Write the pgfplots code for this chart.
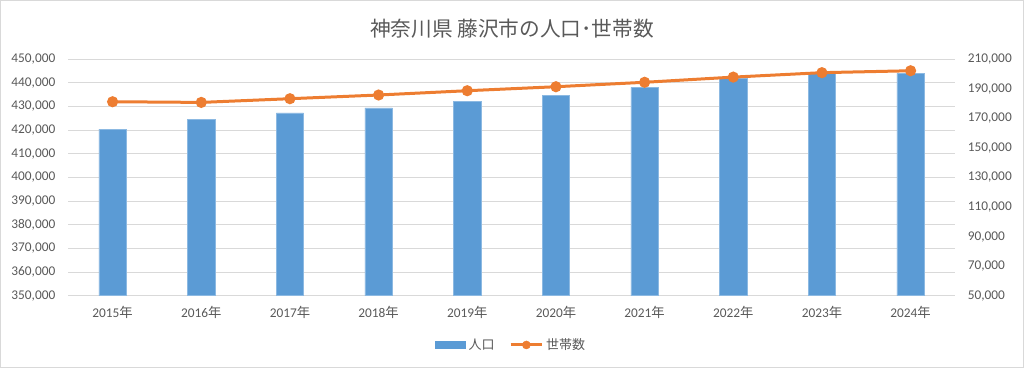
\documentclass[border=0pt]{standalone}
\usepackage{fontspec}
\setmainfont{Carlito}
\newfontfamily\cjk{Noto Sans CJK JP}
\usepackage{pgfplots}
\pgfplotsset{compat=1.18}
\definecolor{barblue}{HTML}{5B9BD5}
\definecolor{lineorange}{HTML}{ED7D31}
\definecolor{txtgray}{HTML}{595959}
\definecolor{gridgray}{HTML}{D9D9D9}
\begin{document}
\begin{tikzpicture}
\useasboundingbox (0,0) rectangle (768pt,276pt);
\draw[gridgray, line width=0.75pt] (0.375pt,0.375pt) rectangle (767.625pt,275.625pt);
\node[text=txtgray, font=\cjk\fontsize{15.5pt}{18pt}\selectfont] at (384pt,254.5pt) {神奈川県 藤沢市の人口･世帯数};
\begin{axis}[
  at={(51.2pt,54.2pt)}, anchor=south west,
  scale only axis, width=665pt, height=177.5pt,
  xmin=-0.5, xmax=9.5,
  ymin=350000, ymax=450000,
  ytick={350000,360000,370000,380000,390000,400000,410000,420000,430000,440000,450000},
  yticklabels={{350,000},{360,000},{370,000},{380,000},{390,000},{400,000},{410,000},{420,000},{430,000},{440,000},{450,000}},
  xtick={0,1,2,3,4,5,6,7,8,9},
  xticklabels={2015{\cjk 年},2016{\cjk 年},2017{\cjk 年},2018{\cjk 年},2019{\cjk 年},2020{\cjk 年},2021{\cjk 年},2022{\cjk 年},2023{\cjk 年},2024{\cjk 年}},
  scaled y ticks=false,
  ymajorgrids, grid style={gridgray, line width=0.75pt},
  axis line style={draw=none},
  major tick length=0pt,
  tick label style={text=txtgray, font=\fontsize{10pt}{12pt}\selectfont, inner sep=0pt},
  yticklabel shift=9.5pt,
  xticklabel shift=8pt,
  legend style={at={(0.5,-0.208)}, anchor=center, draw=none, fill=none,
    font=\cjk\fontsize{9.75pt}{12pt}\selectfont, text=txtgray,
    legend columns=2,
    /tikz/every even column/.append style={column sep=9pt},
    nodes={inner sep=2pt}},
]
\addplot[ybar, bar width=20.5pt, fill=barblue, draw=barblue!70!white, line width=0.4pt, bar shift=0pt,
  legend image code/.code={\fill[barblue] (0pt,-2.8pt) rectangle (22.5pt,2.8pt);}]
  coordinates {(0,420400) (1,424500) (2,427300) (3,429400) (4,432100) (5,434700) (6,438000) (7,441700) (8,443900) (9,444000)};
\addlegendentry{人口}
\addlegendimage{legend image code/.code={\draw[lineorange, line width=2.25pt] (0pt,0pt) -- (23.5pt,0pt); \fill[lineorange] (11.75pt,0pt) circle (3pt);}}
\addlegendentry{世帯数}
\end{axis}
\begin{axis}[
  at={(51.2pt,54.2pt)}, anchor=south west,
  scale only axis, width=665pt, height=177.5pt,
  xmin=-0.5, xmax=9.5,
  ymin=50000, ymax=210000,
  ytick={50000,70000,90000,110000,130000,150000,170000,190000,210000},
  yticklabels={{50,000},{70,000},{90,000},{110,000},{130,000},{150,000},{170,000},{190,000},{210,000}},
  axis y line*=right,
  axis x line=none,
  scaled y ticks=false,
  axis line style={draw=none},
  major tick length=0pt,
  tick label style={text=txtgray, font=\fontsize{10pt}{12pt}\selectfont, inner sep=0pt},
  yticklabel shift=9.5pt,
  yticklabel style={anchor=west},
]
\addplot[lineorange, line width=2.25pt, mark=*, mark size=3pt, mark options={fill=lineorange, draw=lineorange}]
  coordinates {(0,181150) (1,180700) (2,183200) (3,185700) (4,188600) (5,191300) (6,194300) (7,197800) (8,200800) (9,202100)};
\end{axis}
\end{tikzpicture}
\end{document}
